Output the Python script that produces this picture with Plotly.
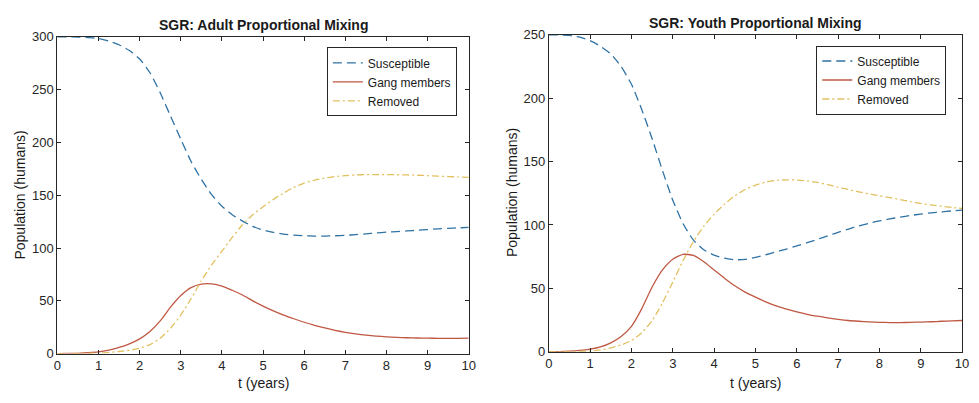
import plotly.graph_objects as go

# ---------------- data ----------------
t_years = [0, 0.25, 0.5, 0.75, 1, 1.25, 1.5, 1.75, 2, 2.25, 2.5, 2.75, 3, 3.25, 3.5, 3.75,
           4, 4.25, 4.5, 4.75, 5, 5.25, 5.5, 5.75, 6, 6.25, 6.5, 6.75, 7, 7.25, 7.5, 7.75,
           8, 8.25, 8.5, 8.75, 9, 9.25, 9.5, 9.75, 10]

adult_susceptible = [300, 300, 299.8, 299.3, 298.5, 296, 292.5, 287, 279, 266, 247, 225, 203, 182, 165, 150.5,
                     139.5, 131.5, 125.5, 120.5, 117, 114.8, 113.2, 112.2, 111.6, 111.3, 111.3, 111.6, 112, 112.7, 113.4, 114.2,
                     115, 115.6, 116.2, 116.8, 117.5, 118.1, 118.7, 119.1, 119.5]
adult_gang = [0, 0.1, 0.3, 0.8, 1.6, 3.3, 5.8, 9.3, 14, 21, 31, 44, 55, 62.5, 65.8, 66,
              64, 60, 55.5, 50, 45, 40.5, 36.5, 33, 29.7, 26.8, 24.3, 22, 20.2, 18.7, 17.5, 16.6,
              15.9, 15.4, 15, 14.8, 14.6, 14.5, 14.5, 14.5, 14.6]
adult_removed = [0, 0, 0.1, 0.3, 0.5, 1.1, 2, 3.2, 5, 8.5, 14.5, 24, 36.5, 52, 69, 84,
                 97, 110, 122, 131.5, 139, 146, 152, 157.5, 161.5, 164.3, 166.2, 167.6, 168.6, 169.2, 169.5, 169.6,
                 169.6, 169.4, 169.2, 168.9, 168.5, 168.1, 167.7, 167.3, 167]

youth_susceptible = [250, 250, 249.6, 248.2, 245.5, 241, 235, 225, 211, 191, 168, 143, 119.5, 101, 88, 80.5,
                     76.2, 73.8, 72.6, 72.8, 74.5, 76.5, 78.8, 81, 83.5, 86, 88.7, 91.5, 94.2, 96.8, 99.2, 101.3,
                     103.2, 104.8, 106.2, 107.5, 108.6, 109.6, 110.4, 111.1, 111.7]
youth_gang = [0, 0.1, 0.4, 1, 2, 3.8, 7, 12, 20, 34, 51, 64.5, 73, 76.8, 76, 71,
              64.5, 58, 52, 47, 43, 39.3, 36.2, 33.6, 31.4, 29.5, 28, 26.6, 25.5, 24.6, 24, 23.5,
              23.2, 23, 23, 23.1, 23.4, 23.6, 24, 24.3, 24.6]
youth_removed = [0, 0, 0.1, 0.2, 0.5, 1.4, 3, 5.3, 8.8, 15, 24.5, 38.5, 55, 72, 87, 99,
                 108.5, 116.5, 123, 128, 131.5, 133.8, 135.2, 135.6, 135.4, 134.8, 133.6, 131.8, 129.8, 128, 126.2, 124.6,
                 123, 121.5, 120, 118.4, 117, 115.8, 114.8, 113.8, 113]

series_names = ["Susceptible", "Gang members", "Removed"]
panel_titles = ["SGR: Adult Proportional Mixing", "SGR: Youth Proportional Mixing"]
x_ticks = [0, 1, 2, 3, 4, 5, 6, 7, 8, 9, 10]
adult_y_ticks = [0, 50, 100, 150, 200, 250, 300]
youth_y_ticks = [0, 50, 100, 150, 200, 250]

# ---------------- style ----------------
W, H = 979, 403
FONT = "Arial, Liberation Sans, Helvetica, sans-serif"
AX = "#262626"
TXT = "#1a1a1a"
colors = ["#2f72a4", "#bf5843", "#e2c060"]
dashes = ["9px,5px", "solid", "7px,3px,2px,3px"]

def px_x(p):
    return p / W

def px_y(p):
    return 1 - p / H

fig = go.Figure()

panels = [
    (adult_susceptible, adult_gang, adult_removed, "x", "y", "legend"),
    (youth_susceptible, youth_gang, youth_removed, "x2", "y2", "legend2"),
]
for s, g, r, xa, ya, lg in panels:
    for name, vals, col, dsh in zip(series_names, [s, g, r], colors, dashes):
        fig.add_trace(go.Scatter(
            x=t_years, y=vals, name=name, mode="lines", xaxis=xa, yaxis=ya, legend=lg,
            line=dict(color=col, width=1.3, dash=dsh, shape="spline", smoothing=0.6),
            hoverinfo="skip",
        ))

axis_common = dict(
    showline=True, linecolor=AX, linewidth=1, mirror="ticks", ticks="inside", ticklen=4,
    tickcolor=AX, tickwidth=1, showgrid=False, zeroline=False,
    tickfont=dict(family=FONT, size=13, color=AX),
)

legend_common = dict(xanchor="right", yanchor="top", bgcolor="white", bordercolor=AX, borderwidth=1,
                     font=dict(family=FONT, size=12, color=TXT), tracegroupgap=0)

fig.update_layout(
    width=W, height=H,
    margin=dict(l=0, r=0, t=0, b=0),
    paper_bgcolor="white", plot_bgcolor="white",
    font=dict(family=FONT, color=AX),
    xaxis=dict(domain=[px_x(54), px_x(470)], range=[0, 10], tickvals=x_ticks, anchor="y", **axis_common),
    yaxis=dict(domain=[px_y(360), px_y(31)], range=[0, 300], tickvals=adult_y_ticks, anchor="x", **axis_common),
    xaxis2=dict(domain=[px_x(551), px_x(969)], range=[0, 10], tickvals=x_ticks, anchor="y2", **axis_common),
    yaxis2=dict(domain=[px_y(358), px_y(29)], range=[0, 250], tickvals=youth_y_ticks, anchor="x2", **axis_common),
    legend=dict(x=px_x(458), y=px_y(42), **legend_common),
    legend2=dict(x=px_x(953), y=px_y(40), **legend_common),
    showlegend=True,
)

annotations = [
    dict(text="<b>" + panel_titles[0] + "</b>", x=px_x(262), y=px_y(19), font=dict(size=14)),
    dict(text="<b>" + panel_titles[1] + "</b>", x=px_x(760), y=px_y(17), font=dict(size=14)),
    dict(text="t (years)", x=px_x(262), y=px_y(391), font=dict(size=14)),
    dict(text="t (years)", x=px_x(760), y=px_y(391), font=dict(size=14)),
    dict(text="Population (humans)", x=px_x(16), y=px_y(195), textangle=-90, font=dict(size=14)),
    dict(text="Population (humans)", x=px_x(514), y=px_y(193), textangle=-90, font=dict(size=14)),
]
for a in annotations:
    a.update(xref="paper", yref="paper", showarrow=False, xanchor="center", yanchor="middle")
    a["font"].update(family=FONT, color=TXT)
fig.update_layout(annotations=annotations)

fig.write_html("out.html")
